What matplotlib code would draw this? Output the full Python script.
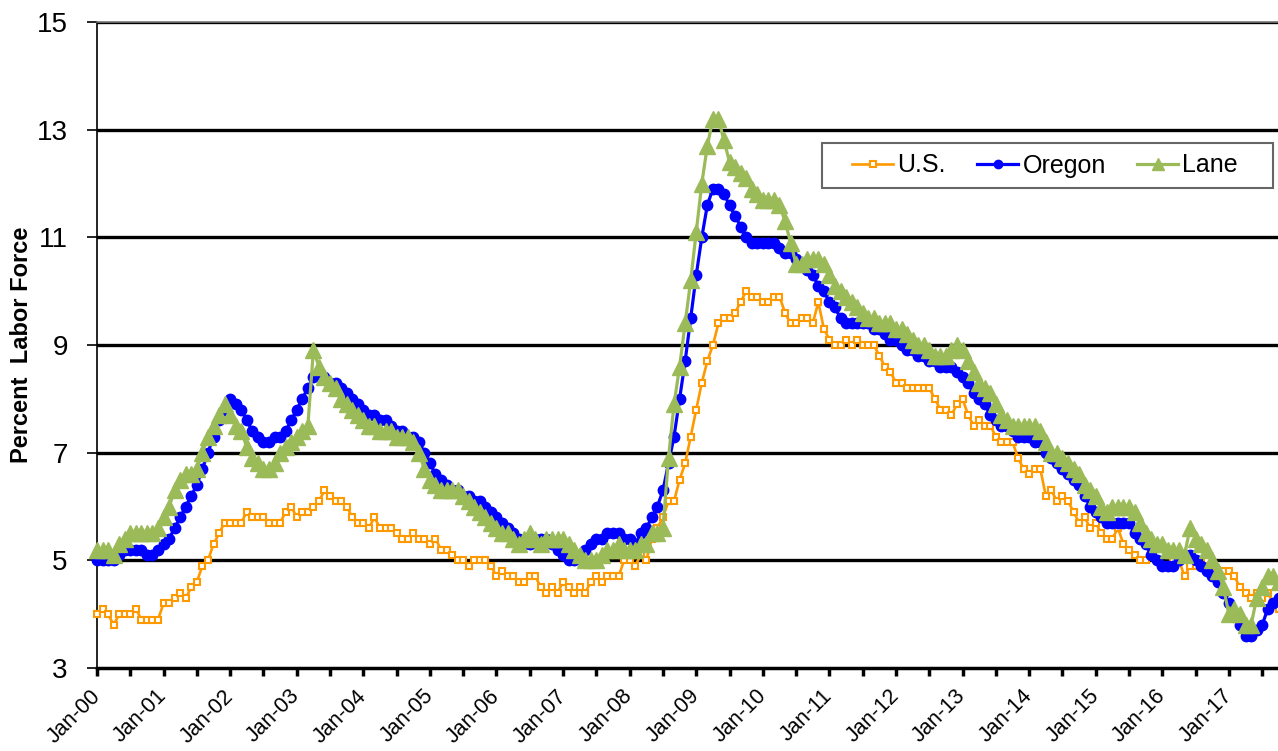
import matplotlib
matplotlib.use("Agg")
import matplotlib.pyplot as plt
from matplotlib.patches import Rectangle

plt.rcParams['font.family'] = ['Liberation Sans', 'DejaVu Sans']

# monthly unemployment rates, Jan 2000 through Oct 2017 (one row per year)
us_rate = [
    4.0, 4.1, 4.0, 3.8, 4.0, 4.0, 4.0, 4.1, 3.9, 3.9, 3.9, 3.9,
    4.2, 4.2, 4.3, 4.4, 4.3, 4.5, 4.6, 4.9, 5.0, 5.3, 5.5, 5.7,
    5.7, 5.7, 5.7, 5.9, 5.8, 5.8, 5.8, 5.7, 5.7, 5.7, 5.9, 6.0,
    5.8, 5.9, 5.9, 6.0, 6.1, 6.3, 6.2, 6.1, 6.1, 6.0, 5.8, 5.7,
    5.7, 5.6, 5.8, 5.6, 5.6, 5.6, 5.5, 5.4, 5.4, 5.5, 5.4, 5.4,
    5.3, 5.4, 5.2, 5.2, 5.1, 5.0, 5.0, 4.9, 5.0, 5.0, 5.0, 4.9,
    4.7, 4.8, 4.7, 4.7, 4.6, 4.6, 4.7, 4.7, 4.5, 4.4, 4.5, 4.4,
    4.6, 4.5, 4.4, 4.5, 4.4, 4.6, 4.7, 4.6, 4.7, 4.7, 4.7, 5.0,
    5.0, 4.9, 5.1, 5.0, 5.4, 5.6, 5.8, 6.1, 6.1, 6.5, 6.8, 7.3,
    7.8, 8.3, 8.7, 9.0, 9.4, 9.5, 9.5, 9.6, 9.8, 10.0, 9.9, 9.9,
    9.8, 9.8, 9.9, 9.9, 9.6, 9.4, 9.4, 9.5, 9.5, 9.4, 9.8, 9.3,
    9.1, 9.0, 9.0, 9.1, 9.0, 9.1, 9.0, 9.0, 9.0, 8.8, 8.6, 8.5,
    8.3, 8.3, 8.2, 8.2, 8.2, 8.2, 8.2, 8.0, 7.8, 7.8, 7.7, 7.9,
    8.0, 7.7, 7.5, 7.6, 7.5, 7.5, 7.3, 7.2, 7.2, 7.2, 6.9, 6.7,
    6.6, 6.7, 6.7, 6.2, 6.3, 6.1, 6.2, 6.1, 5.9, 5.7, 5.8, 5.6,
    5.7, 5.5, 5.4, 5.4, 5.6, 5.3, 5.2, 5.1, 5.0, 5.0, 5.1, 5.0,
    4.9, 4.9, 5.0, 5.0, 4.7, 4.9, 4.9, 4.9, 5.0, 4.9, 4.8, 4.8,
    4.8, 4.7, 4.5, 4.4, 4.3, 4.4, 4.3, 4.4, 4.2, 4.1,
]

oregon_rate = [
    5.0, 5.0, 5.0, 5.0, 5.1, 5.2, 5.2, 5.2, 5.2, 5.1, 5.1, 5.2,
    5.3, 5.4, 5.6, 5.8, 6.0, 6.2, 6.4, 6.7, 7.0, 7.3, 7.6, 7.8,
    8.0, 7.9, 7.8, 7.6, 7.4, 7.3, 7.2, 7.2, 7.3, 7.3, 7.4, 7.6,
    7.8, 8.0, 8.2, 8.4, 8.5, 8.4, 8.3, 8.3, 8.2, 8.1, 8.0, 7.9,
    7.8, 7.7, 7.7, 7.6, 7.6, 7.5, 7.4, 7.4, 7.3, 7.3, 7.2, 7.0,
    6.8, 6.6, 6.5, 6.4, 6.3, 6.3, 6.2, 6.2, 6.1, 6.1, 6.0, 5.9,
    5.8, 5.7, 5.6, 5.5, 5.4, 5.3, 5.3, 5.4, 5.4, 5.4, 5.3, 5.2,
    5.1, 5.0, 5.0, 5.1, 5.2, 5.3, 5.4, 5.4, 5.5, 5.5, 5.5, 5.4,
    5.4, 5.3, 5.5, 5.6, 5.8, 6.0, 6.3, 6.8, 7.3, 8.0, 8.7, 9.5,
    10.3, 11.0, 11.6, 11.9, 11.9, 11.8, 11.6, 11.4, 11.2, 11.0, 10.9, 10.9,
    10.9, 10.9, 10.9, 10.8, 10.7, 10.7, 10.6, 10.5, 10.4, 10.3, 10.1, 10.0,
    9.8, 9.7, 9.5, 9.4, 9.4, 9.4, 9.4, 9.4, 9.3, 9.3, 9.2, 9.1,
    9.1, 9.0, 8.9, 8.9, 8.8, 8.8, 8.7, 8.7, 8.6, 8.6, 8.6, 8.5,
    8.4, 8.3, 8.1, 8.0, 7.9, 7.7, 7.6, 7.5, 7.5, 7.4, 7.3, 7.3,
    7.3, 7.2, 7.2, 7.0, 6.9, 6.8, 6.7, 6.6, 6.5, 6.4, 6.2, 6.0,
    5.9, 5.8, 5.7, 5.7, 5.7, 5.7, 5.7, 5.5, 5.4, 5.3, 5.1, 5.0,
    4.9, 4.9, 4.9, 5.0, 5.1, 5.1, 5.0, 4.9, 4.8, 4.7, 4.6, 4.4,
    4.2, 4.0, 3.8, 3.6, 3.6, 3.7, 3.8, 4.1, 4.2, 4.3,
]

lane_rate = [
    5.2, 5.2, 5.2, 5.1, 5.3, 5.4, 5.5, 5.5, 5.5, 5.5, 5.5, 5.6,
    5.8, 6.0, 6.3, 6.5, 6.6, 6.6, 6.7, 7.0, 7.3, 7.5, 7.7, 7.9,
    7.7, 7.5, 7.4, 7.1, 6.9, 6.8, 6.7, 6.7, 6.8, 7.0, 7.1, 7.2,
    7.3, 7.4, 7.5, 8.9, 8.6, 8.4, 8.3, 8.2, 8.0, 7.9, 7.8, 7.7,
    7.6, 7.5, 7.5, 7.4, 7.4, 7.4, 7.3, 7.3, 7.3, 7.2, 7.0, 6.7,
    6.5, 6.4, 6.3, 6.3, 6.3, 6.3, 6.2, 6.1, 6.0, 5.9, 5.8, 5.7,
    5.6, 5.5, 5.5, 5.4, 5.3, 5.4, 5.5, 5.4, 5.3, 5.4, 5.4, 5.4,
    5.4, 5.3, 5.2, 5.1, 5.0, 5.0, 5.0, 5.1, 5.2, 5.2, 5.3, 5.2,
    5.2, 5.2, 5.3, 5.3, 5.5, 5.5, 5.6, 6.9, 7.9, 8.6, 9.4, 10.2,
    11.1, 12.0, 12.7, 13.2, 13.2, 12.8, 12.4, 12.3, 12.2, 12.1, 11.9, 11.8,
    11.7, 11.7, 11.7, 11.6, 11.3, 10.9, 10.5, 10.5, 10.6, 10.6, 10.6, 10.5,
    10.3, 10.1, 10.0, 9.9, 9.8, 9.7, 9.6, 9.5, 9.5, 9.4, 9.4, 9.4,
    9.3, 9.3, 9.2, 9.1, 9.0, 9.0, 8.9, 8.8, 8.8, 8.8, 8.9, 9.0,
    8.9, 8.7, 8.5, 8.3, 8.2, 8.1, 7.9, 7.7, 7.6, 7.5, 7.5, 7.5,
    7.5, 7.5, 7.4, 7.2, 7.0, 7.0, 6.9, 6.8, 6.7, 6.6, 6.4, 6.3,
    6.2, 6.0, 5.9, 6.0, 6.0, 6.0, 6.0, 5.9, 5.7, 5.5, 5.4, 5.3,
    5.3, 5.2, 5.2, 5.2, 5.1, 5.6, 5.4, 5.3, 5.2, 5.0, 4.8, 4.5,
    4.0, 4.1, 4.0, 3.8, 3.8, 4.3, 4.5, 4.7, 4.7, 4.6,
]

years = list(range(2000, 2018))
tick_labels = ["Jan-%02d" % (y % 100) for y in years]
y_ticks = [3, 5, 7, 9, 11, 13, 15]

months = list(range(len(us_rate)))

W, H = 1278, 751
fig = plt.figure(figsize=(W / 100, H / 100), dpi=100)
ax = fig.add_axes([97 / W, 1 - 668 / H, 1 - 97 / W, (668 - 22) / H])

# horizontal rules
for v in y_ticks[1:]:
    ax.axhline(v, color="black", lw=2.4, zorder=1)

ax.plot(months, us_rate, color="#FF9900", lw=1.9, marker="s", ms=5,
        mfc="white", mec="#FF9900", mew=1.5, label="U.S.", zorder=3, clip_on=False)
ax.plot(months, oregon_rate, color="#0000FF", lw=2.3, marker="o", ms=7.5,
        mec="#0000FF", label="Oregon", zorder=4, clip_on=False)
ax.plot(months, lane_rate, color="#9BBB59", lw=2.3, marker="^", ms=11,
        mec="#9BBB59", label="Lane", zorder=5, clip_on=False)

ax.set_xlim(0, (W - 96.7) / 5.55)
ax.set_ylim(3, 15)
ax.set_yticks(y_ticks)
ax.tick_params(axis="y", labelsize=20, length=7, width=1.2, pad=14)

x_pos = list(range(0, len(us_rate) + 1, 6))
ax.set_xticks(x_pos)
ax.set_xticklabels([tick_labels[i // 12] if i % 12 == 0 else "" for i in x_pos],
                   rotation=45, ha="right", va="center", rotation_mode="anchor", fontsize=15.5)
ax.tick_params(axis="x", length=6, width=2.5, pad=12)

ax.spines["right"].set_visible(False)
ax.spines["top"].set_color("#777777")
ax.spines["top"].set_linewidth(1.2)
ax.spines["top"].set_zorder(6)
ax.spines["left"].set_linewidth(1.2)
ax.spines["bottom"].set_linewidth(2.5)

fig.text(22 / W, 1 - 345 / H, "Percent  Labor Force", rotation=90,
         ha="center", va="center", fontsize=17, fontweight="bold")

# legend box drawn separately so it can keep its wide side margins
box = Rectangle((822 / W, 1 - 188 / H), (1273 - 822) / W, 45 / H,
                transform=fig.transFigure, facecolor="white",
                edgecolor="#666666", lw=1.5, zorder=10, clip_on=False)
ax.add_patch(box)
leg = ax.legend(loc="center", bbox_to_anchor=(1045 / W, 1 - 165.5 / H),
                bbox_transform=fig.transFigure, ncol=3, fontsize=18, frameon=False,
                handlelength=1.65, handletextpad=0.16, columnspacing=1.25,
                borderpad=0.3, markerscale=0.8)
leg.set_zorder(11)

fig.savefig("out.png", dpi=100)
